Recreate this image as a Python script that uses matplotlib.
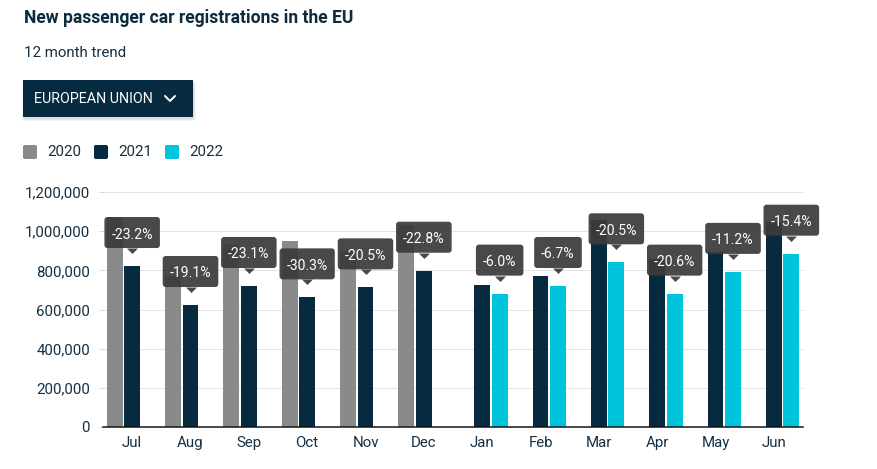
import matplotlib
matplotlib.use('Agg')
import numpy as np
import matplotlib.pyplot as plt
from matplotlib.patches import FancyBboxPatch, Rectangle
from matplotlib.lines import Line2D
import matplotlib.transforms as mtransforms

# ---------------- data ----------------
months = ['Jul', 'Aug', 'Sep', 'Oct', 'Nov', 'Dec', 'Jan', 'Feb', 'Mar', 'Apr', 'May', 'Jun']
years = ['2020', '2021', '2022']
vals_2020 = [1070000, 770000, 936000, 950000, 897000, 1034000, np.nan, np.nan, np.nan, np.nan, np.nan, np.nan]
vals_2021 = [822000, 623000, 720000, 662000, 713000, 798000, 727000, 770000, 1058000, 858000, 892000, 1046000]
vals_2022 = [np.nan, np.nan, np.nan, np.nan, np.nan, np.nan, 681000, 720000, 841000, 681000, 792000, 885000]
pct_change = ['-23.2%', '-19.1%', '-23.1%', '-30.3%', '-20.5%', '-22.8%',
              '-6.0%', '-6.7%', '-20.5%', '-20.6%', '-11.2%', '-15.4%']
y_ticks = [0, 200000, 400000, 600000, 800000, 1000000, 1200000]

# ---------------- style ----------------
W, H = 877, 469
DPI = 72
plt.rcParams['font.family'] = ['Roboto', 'DejaVu Sans']
NAVY = '#062b40'
GRAY = '#898b8b'
CYAN = '#00c4dc'
TEXT = '#152f42'
colors = [GRAY, NAVY, CYAN]

fig = plt.figure(figsize=(W / DPI, H / DPI), dpi=DPI)
fig.patch.set_facecolor('white')


def fx(x):
    return x / W


def fy(y):
    return 1 - y / H


ax = fig.add_axes([fx(103), fy(427), fx(803) - fx(103), fy(192) - fy(427)])

x = np.arange(len(months))
series = [vals_2020, vals_2021, vals_2022]
offsets = [-0.3, 0.0, 0.3]
bw = 0.274
for s, off, c in zip(series, offsets, colors):
    ax.bar(x + off, s, width=bw, color=c, zorder=3)

ax.set_xlim(-0.5, 11.5)
ax.set_ylim(0, 1200000)
ax.set_yticks(y_ticks)
ax.set_yticklabels([f'{v:,}' for v in y_ticks])
ax.set_xticks(x)
ax.set_xticklabels(months)
ax.tick_params(axis='y', length=4, color='#d0d0d0', pad=9, labelsize=15, labelcolor=TEXT)
ax.tick_params(axis='x', length=0, pad=9, labelsize=15, labelcolor=TEXT)
ax.grid(axis='y', color='#e3e3e3', linewidth=1, zorder=0)
ax.set_axisbelow(True)
for sp in ['top', 'right', 'left']:
    ax.spines[sp].set_visible(False)
ax.spines['bottom'].set_color('#111111')
ax.spines['bottom'].set_linewidth(1.5)
ax.spines['bottom'].set_zorder(4)

# ---------------- callouts ----------------
BOX = '#3b3b3b'
renderer = fig.canvas.get_renderer()
ident = mtransforms.IdentityTransform()
tri_trans = mtransforms.offset_copy(ax.transData, fig=fig, x=0, y=18, units='dots')
for i in range(len(months)):
    if not np.isnan(vals_2022[i]):
        xi, v = x[i] + offsets[2], vals_2022[i]
    else:
        xi, v = x[i] + offsets[1], vals_2021[i]
    px, py = ax.transData.transform((xi, v))
    bottom = py + 18
    t = ax.text(px, bottom + 9.5, pct_change[i], transform=ident, ha='center', va='baseline',
                color='white', fontsize=14, zorder=7, clip_on=False)
    tw = t.get_window_extent(renderer).width
    bwid = tw + 14
    box = FancyBboxPatch((px - bwid / 2, bottom), bwid, 31,
                         boxstyle='round,pad=0,rounding_size=3', transform=ident,
                         facecolor=BOX, edgecolor='none', alpha=0.93, zorder=6, clip_on=False)
    ax.add_artist(box)
    ax.plot([xi], [v], marker=[(-1, 0), (1, 0), (0, -1)], markersize=11, color=BOX, alpha=0.93,
            transform=tri_trans, zorder=6, clip_on=False, linestyle='none', markeredgewidth=0)

# ---------------- header ----------------
fig.text(fx(24), fy(18), 'New passenger car registrations in the EU', fontsize=17.5,
         fontweight='bold', color='#0c2b3e', ha='left', va='center')
fig.text(fx(24), fy(53), '12 month trend', fontsize=15, color=TEXT, ha='left', va='center')

# dropdown button with shadow
for k, a in enumerate([0.05, 0.05, 0.04]):
    d = 1 + k
    fig.patches.append(Rectangle((fx(23 - d + 2), fy(118 + d)), fx(170 + 2 * d - 2), fy(80) - fy(118),
                                 transform=fig.transFigure, facecolor='black', alpha=a,
                                 edgecolor='none', zorder=1))
fig.patches.append(Rectangle((fx(23), fy(117)), fx(170), fy(80) - fy(117), transform=fig.transFigure,
                             facecolor=NAVY, edgecolor='none', zorder=2))
fig.text(fx(34), fy(99), 'EUROPEAN UNION', fontsize=14.2, color='white', ha='left', va='center', zorder=3)
fig.add_artist(Line2D([fx(165), fx(170), fx(175)], [fy(96), fy(101), fy(96)], transform=fig.transFigure,
                      color='white', linewidth=2, solid_capstyle='round', solid_joinstyle='round', zorder=3))

# legend
leg_x = [23, 94, 165]
for lx, c, yr in zip(leg_x, colors, years):
    fig.patches.append(FancyBboxPatch((fx(lx), fy(159)), fx(14), fy(145) - fy(159),
                                      boxstyle='round,pad=0,rounding_size=0.003',
                                      transform=fig.transFigure, facecolor=c, edgecolor='none'))
    fig.text(fx(lx + 24), fy(152), yr, fontsize=15, color=TEXT, ha='left', va='center')

fig.savefig('out.png', dpi=DPI, facecolor='white')
